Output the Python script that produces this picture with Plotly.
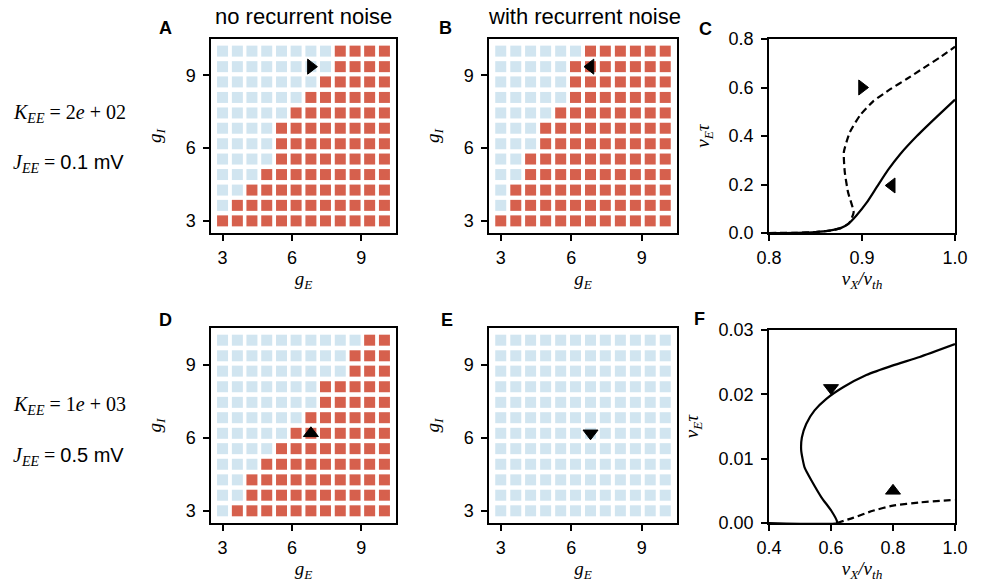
import plotly.graph_objects as go

# ---------------------------------------------------------------- data
# grid of coupling strengths (g_E along columns, g_I along rows)
g_vals = [3.0, 3.64, 4.27, 4.91, 5.55, 6.18, 6.82, 7.45, 8.09, 8.73, 9.36, 10.0]

# number of stable (blue) cells in each row, listed from the top row (g_I = 10) down
stable_A = [8, 8, 7, 6, 5, 4, 4, 4, 3, 2, 1, 0]
stable_B = [6, 5, 5, 5, 4, 3, 3, 2, 2, 1, 1, 0]
stable_D = [10, 9, 9, 7, 7, 6, 5, 4, 3, 2, 2, 1]
stable_E = [12, 12, 12, 12, 12, 12, 12, 12, 12, 12, 12, 12]

# operating point marked on the grids
mark_AB = (6.82, 9.36)
mark_DE = (6.82, 6.18)

# rate curves, K_EE = 2e+02
C_solid_x = [0.80, 0.83, 0.85, 0.865, 0.877, 0.886, 0.894, 0.905, 0.916, 0.928, 0.941, 0.959, 0.980, 1.0]
C_solid_y = [0.0, 0.001, 0.004, 0.010, 0.020, 0.040, 0.072, 0.125, 0.190, 0.260, 0.325, 0.400, 0.478, 0.550]
C_dash_x = [0.80, 0.83, 0.85, 0.865, 0.877, 0.886, 0.891, 0.885, 0.8815, 0.8805, 0.887, 0.898,
            0.912, 0.930, 0.948, 0.966, 0.984, 1.0]
C_dash_y = [0.0, 0.001, 0.004, 0.010, 0.020, 0.040, 0.085, 0.168, 0.251, 0.334, 0.416, 0.486,
            0.543, 0.592, 0.635, 0.680, 0.725, 0.768]
C_marks = [(0.90, 0.60, "triangle-right"), (0.932, 0.196, "triangle-left")]

# rate curves, K_EE = 1e+03
F_solid_x = [0.40, 0.619, 0.619, 0.601, 0.569, 0.537, 0.515, 0.504, 0.506, 0.520, 0.547, 0.585,
             0.639, 0.714, 0.80, 0.886, 1.0]
F_solid_y = [0.0, 0.0, 0.0003, 0.0019, 0.0040, 0.0066, 0.0086, 0.0112, 0.0133, 0.0154, 0.0175,
             0.0193, 0.0211, 0.0230, 0.0245, 0.0258, 0.0278]
F_dash_x = [0.619, 0.671, 0.735, 0.80, 0.886, 1.0]
F_dash_y = [0.0, 0.0008, 0.0019, 0.0027, 0.0032, 0.0036]
F_marks = [(0.60, 0.021, "triangle-down"), (0.80, 0.005, "triangle-up")]

BLUE = "#d1e5f0"
RED = "#d6604d"
W, H = 983, 588
SANS = "Liberation Sans, Arial, sans-serif"
SERIF = "Liberation Serif, Times New Roman, serif"

# panel boxes in pixels: (left, right, top, bottom)
boxes = {
    1: (211, 396, 39, 233),   # A
    2: (489, 677, 39, 233),   # B
    3: (769, 955, 39, 233),   # C
    4: (211, 396, 328, 523),  # D
    5: (489, 677, 328, 523),  # E
    6: (769, 955, 330, 523),  # F
}
# gap between tick labels and the y-axis title, per panel
y_standoff = {1: 19, 2: 19, 3: 14, 4: 19, 5: 19, 6: 15}

fig = go.Figure()


def ax(i):
    return ("x" if i == 1 else f"x{i}"), ("y" if i == 1 else f"y{i}")


def add_grid(i, stable, mark, symbol):
    xa, ya = ax(i)
    bx, by, rx, ry = [], [], [], []
    n = len(g_vals)
    for r, k in enumerate(stable):
        gi = g_vals[n - 1 - r]
        for c, ge in enumerate(g_vals):
            if c < k:
                bx.append(ge); by.append(gi)
            else:
                rx.append(ge); ry.append(gi)
    for xs, ys, col in ((bx, by, BLUE), (rx, ry, RED)):
        if xs:
            fig.add_trace(go.Scatter(x=xs, y=ys, mode="markers", xaxis=xa, yaxis=ya,
                                     marker=dict(symbol="square", size=11, color=col,
                                                 line=dict(width=0)),
                                     showlegend=False, hoverinfo="skip"))
    fig.add_trace(go.Scatter(x=[mark[0]], y=[mark[1]], mode="markers", xaxis=xa, yaxis=ya,
                             marker=dict(symbol=symbol, size=13, color="black",
                                         line=dict(width=1, color="black")),
                             showlegend=False, hoverinfo="skip"))


add_grid(1, stable_A, mark_AB, "triangle-right")
add_grid(2, stable_B, mark_AB, "triangle-left")
add_grid(4, stable_D, mark_DE, "triangle-up")
add_grid(5, stable_E, mark_DE, "triangle-down")


def add_curves(i, sx, sy, dx, dy, marks):
    xa, ya = ax(i)
    fig.add_trace(go.Scatter(x=sx, y=sy, mode="lines", xaxis=xa, yaxis=ya,
                             line=dict(color="black", width=2.2, shape="spline", smoothing=0.5),
                             showlegend=False, hoverinfo="skip"))
    fig.add_trace(go.Scatter(x=dx, y=dy, mode="lines", xaxis=xa, yaxis=ya,
                             line=dict(color="black", width=2.2, dash="7px,4px",
                                       shape="spline", smoothing=0.5),
                             showlegend=False, hoverinfo="skip"))
    for mx, my, sym in marks:
        fig.add_trace(go.Scatter(x=[mx], y=[my], mode="markers", xaxis=xa, yaxis=ya,
                                 marker=dict(symbol=sym, size=13, color="black",
                                             line=dict(width=1, color="black")),
                                 showlegend=False, hoverinfo="skip"))


add_curves(3, C_solid_x, C_solid_y, C_dash_x, C_dash_y, C_marks)
add_curves(6, F_solid_x, F_solid_y, F_dash_x, F_dash_y, F_marks)

# ---------------------------------------------------------------- axes
base = dict(showline=True, mirror=True, linecolor="black", linewidth=1.5,
            ticks="outside", ticklen=6, tickwidth=1.5, tickcolor="black",
            showgrid=False, zeroline=False, automargin=False,
            tickfont=dict(family=SANS, size=18, color="black"))

g_title_x = "<i>g<sub>E</sub></i>"
g_title_y = "<i>g<sub>I</sub></i>"
rate_title_y = "<i>ν<sub>E</sub>τ</i>"
rate_title_x = "<i>ν<sub>X</sub>/ν<sub>th</sub></i>"
TITLE_FONT = dict(family=SERIF, size=19, color="black")

layout = {}
for i, (l, r, t, b) in boxes.items():
    xn = "xaxis" if i == 1 else f"xaxis{i}"
    yn = "yaxis" if i == 1 else f"yaxis{i}"
    xa, ya = ax(i)
    xd = [l / W, r / W]
    yd = [1 - b / H, 1 - t / H]
    if i in (3, 6):
        if i == 3:
            xr, yr = [0.8, 1.0], [0.0, 0.8]
            xt, yt = [0.8, 0.9, 1.0], [0.0, 0.2, 0.4, 0.6, 0.8]
            xf, yf = ".1f", ".1f"
        else:
            xr, yr = [0.4, 1.0], [0.0, 0.03]
            xt, yt = [0.4, 0.6, 0.8, 1.0], [0.0, 0.01, 0.02, 0.03]
            xf, yf = ".1f", ".2f"
        xtitle, ytitle = rate_title_x, rate_title_y
    else:
        xr, yr = [2.5, 10.5], [2.5, 10.5]
        xt, yt = [3, 6, 9], [3, 6, 9]
        xf, yf = "d", "d"
        xtitle, ytitle = g_title_x, g_title_y
    layout[xn] = dict(base, domain=xd, anchor=ya, range=xr, tickvals=xt, tickformat=xf,
                      ticklabelstandoff=2,
                      title=dict(text=xtitle, font=TITLE_FONT, standoff=4))
    layout[yn] = dict(base, domain=yd, anchor=xa, range=yr, tickvals=yt, tickformat=yf,
                      ticklabelstandoff=4,
                      title=dict(text=ytitle, font=TITLE_FONT, standoff=y_standoff[i]))

fig.update_layout(**layout)

# ---------------------------------------------------------------- text
ann = []


def text(x, y, s, size, family=SANS, anchor="center", bold=False):
    ann.append(dict(x=x / W, y=1 - y / H, xref="paper", yref="paper", showarrow=False,
                    text=f"<b>{s}</b>" if bold else s, xanchor=anchor, yanchor="middle",
                    font=dict(family=family, size=size, color="black")))


text(303, 17, "no recurrent noise", 22)
text(584, 17, "with recurrent noise", 22)
for letter, x, y in (("A", 165, 28), ("B", 445, 28), ("C", 705, 29),
                     ("D", 165, 320), ("E", 447, 320), ("F", 699, 319)):
    text(x, y, letter, 18, bold=True)

sans_span = '<span style="font-family:Liberation Sans, Arial, sans-serif">'
text(11, 113, "<i>K<sub>EE</sub></i> = 2<i>e</i> + 02", 20, family=SERIF, anchor="left")
text(11, 163, f"<i>J<sub>EE</sub></i> = {sans_span}0.1 mV</span>", 20, family=SERIF, anchor="left")
text(11, 405, "<i>K<sub>EE</sub></i> = 1<i>e</i> + 03", 20, family=SERIF, anchor="left")
text(11, 456, f"<i>J<sub>EE</sub></i> = {sans_span}0.5 mV</span>", 20, family=SERIF, anchor="left")

fig.update_layout(width=W, height=H, margin=dict(l=0, r=0, t=0, b=0, autoexpand=False),
                  paper_bgcolor="white", plot_bgcolor="white", annotations=ann)

fig.write_html("out.html")
